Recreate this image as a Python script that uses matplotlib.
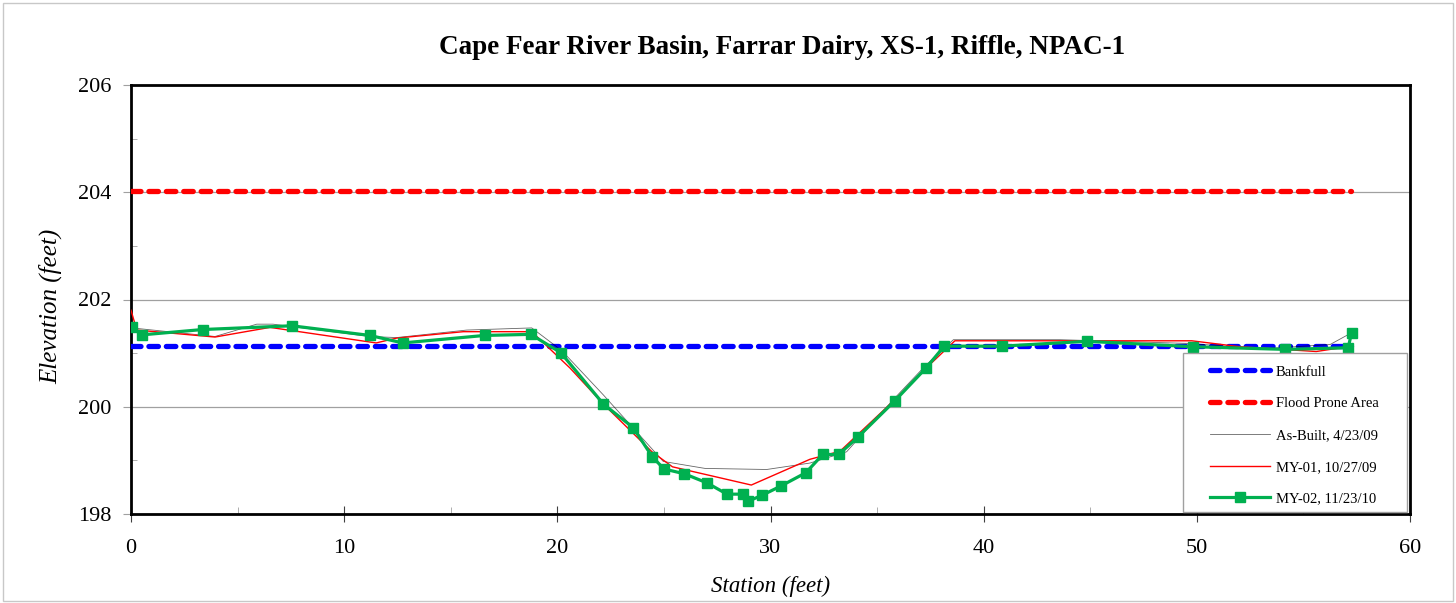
import numpy as np
import matplotlib
matplotlib.use("Agg")
import matplotlib.pyplot as plt
from matplotlib.patches import Rectangle
from matplotlib.ticker import MultipleLocator

plt.rcParams["font.family"] = ["Liberation Serif", "DejaVu Serif"]

# ── data ──────────────────────────────────────────────────────────────────────
bankfull_x = [0.0, 57.25]
bankfull_y = [201.13, 201.13]

flood_x = [0.0, 57.25]
flood_y = [204.02, 204.02]

asbuilt_x = [0.05, 3.94, 5.9, 6.66, 11.2, 12.46, 15.75, 18.8, 20.2, 22.16,
             24.97, 26.93, 29.82, 31.85, 33.57, 35.8, 37.3, 38.58, 43.58,
             49.68, 53.0, 56.25, 57.26]
asbuilt_y = [201.47, 201.31, 201.54, 201.54, 201.31, 201.29, 201.43, 201.47,
             201.05, 200.22, 198.98, 198.85, 198.83, 198.95, 199.16, 200.15,
             200.78, 201.25, 201.25, 201.18, 201.08, 201.16, 201.38]

my01_x = [0.0, 0.27, 3.94, 6.52, 11.5, 12.46, 15.59, 18.8, 20.6, 22.16,
          24.44, 25.4, 29.1, 31.85, 33.26, 35.8, 37.3, 38.65, 49.76, 52.0,
          55.6, 57.1, 57.25]
my01_y = [201.8, 201.43, 201.3, 201.48, 201.19, 201.28, 201.4, 201.4,
          200.72, 200.05, 199.16, 198.88, 198.54, 199.02, 199.17, 200.12,
          200.72, 201.23, 201.23, 201.12, 201.03, 201.12, 201.35]

my02_x = [0.03, 0.5, 3.36, 7.54, 11.2, 12.75, 16.6, 18.75, 20.16, 22.16,
          23.56, 24.45, 25.0, 25.96, 27.02, 27.96, 28.7, 28.96, 29.61, 30.48,
          31.66, 32.45, 33.2, 34.09, 35.83, 37.29, 38.15, 40.85, 44.83, 49.8,
          54.13, 57.1, 57.26]
my02_y = [201.49, 201.34, 201.44, 201.51, 201.33, 201.19, 201.33, 201.35,
          201.01, 200.05, 199.61, 199.07, 198.84, 198.75, 198.58, 198.37,
          198.37, 198.24, 198.35, 198.52, 198.77, 199.11, 199.11, 199.43,
          200.11, 200.72, 201.13, 201.13, 201.22, 201.12, 201.07, 201.10,
          201.38]

TITLE = "Cape Fear River Basin, Farrar Dairy, XS-1, Riffle, NPAC-1"
GREEN = "#00B050"

# ── figure ────────────────────────────────────────────────────────────────────
fig = plt.figure(figsize=(14.56, 6.03), dpi=100)
ax = fig.add_axes([131 / 1456, 1 - 514 / 603, 1279 / 1456, 429 / 603])

# light grey chart border
fig.patches.append(Rectangle((3 / 1456, 2 / 603), 1 - 6 / 1456, 1 - 5 / 603,
                             transform=fig.transFigure, fill=False,
                             edgecolor="#c8c8c8", linewidth=1.0))

ax.plot(bankfull_x, bankfull_y, color="#0000FF", lw=3.8, ls=(0, (1.8, 1.5)),
        dash_capstyle="round", label="Bankfull", zorder=3)
ax.plot(flood_x, flood_y, color="#FF0000", lw=3.8, ls=(0, (1.8, 1.5)),
        dash_capstyle="round", label="Flood Prone Area", zorder=3)
ax.plot(asbuilt_x, asbuilt_y, color="black", lw=0.6, alpha=0.6,
        label="As-Built, 4/23/09", zorder=4)
ax.plot(my01_x, my01_y, color="#FF0000", lw=1.0, label="MY-01, 10/27/09",
        zorder=4)
ax.plot(my02_x, my02_y, color=GREEN, lw=2.3, marker="s", ms=6.5,
        label="MY-02, 11/23/10", zorder=5)

ax.set_xlim(0, 60)
ax.set_ylim(198, 206)
ax.xaxis.set_major_locator(MultipleLocator(10))
ax.xaxis.set_minor_locator(MultipleLocator(5))
ax.yaxis.set_major_locator(MultipleLocator(2))
ax.yaxis.set_minor_locator(MultipleLocator(1))
ax.grid(axis="y", which="major", color="#a0a0a0", lw=0.9)
ax.set_axisbelow(True)

for s in ax.spines.values():
    s.set_linewidth(2.0)
ax.tick_params(axis="x", which="major", direction="inout", length=12,
               labelsize=16, color="#404040", pad=12)
ax.tick_params(axis="x", which="minor", direction="in", length=5,
               color="#a0a0a0")
ax.tick_params(axis="y", which="major", direction="out", length=6,
               labelsize=16, color="#a0a0a0", pad=8)
ax.tick_params(axis="y", which="minor", direction="in", length=4,
               color="#a0a0a0")

ax.set_xlabel("Station (feet)", fontsize=16.5, style="italic", va="top")
ax.xaxis.set_label_coords(0.5, -0.145)
ax.set_ylabel("Elevation (feet)", fontsize=18, style="italic")
ax.yaxis.set_label_coords(-0.054, 0.485)
fig.text(0.537, 0.922, TITLE, ha="center", va="center", fontsize=19.5,
         fontweight="bold")

# legend: entries without frame, box drawn to match the reference
leg = ax.legend(loc="lower left", bbox_to_anchor=(0.8436, 0.02), fontsize=10.5,
                frameon=False, handlelength=4.1, handletextpad=0.4,
                labelspacing=1.27, borderpad=0.0, borderaxespad=0.0)
leg.set_zorder(7)
ax.add_patch(Rectangle((0.8225, 0.005), 0.1752, 0.371, transform=ax.transAxes,
                       facecolor="white", edgecolor="#a0a0a0", lw=1.0,
                       zorder=6))

fig.savefig("out.png", dpi=100)
